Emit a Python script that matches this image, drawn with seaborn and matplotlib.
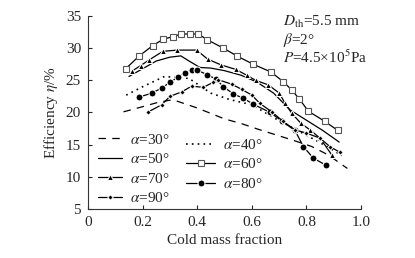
import pandas as pd
import matplotlib.pyplot as plt
import seaborn as sns

# ------------------------------------------------------------------
# data (x = cold mass fraction, y = efficiency %)
# ------------------------------------------------------------------
x_a30 = [0.13, 0.20, 0.25, 0.31, 0.40, 0.50, 0.56, 0.63, 0.69, 0.75, 0.82, 0.88, 0.95]
y_a30 = [20.1, 20.9, 21.5, 22.0, 20.7, 19.0, 18.3, 17.3, 16.5, 15.7, 14.7, 13.4, 11.3]

x_a40 = [0.14, 0.20, 0.28, 0.37, 0.45, 0.52, 0.60, 0.68, 0.75, 0.82, 0.88, 0.93]
y_a40 = [22.7, 24.0, 25.6, 25.3, 23.0, 22.0, 21.2, 19.2, 17.6, 16.0, 14.6, 13.3]

x_a50 = [0.15, 0.20, 0.25, 0.30, 0.34, 0.37, 0.41, 0.45, 0.50, 0.56, 0.62, 0.68, 0.74, 0.80, 0.86, 0.92]
y_a50 = [25.6, 26.8, 28.0, 28.6, 28.8, 28.0, 27.0, 26.9, 26.5, 25.8, 24.7, 23.0, 20.4, 18.8, 17.2, 15.4]

x_a60 = [0.138, 0.188, 0.237, 0.276, 0.312, 0.341, 0.374, 0.404, 0.437, 0.496, 0.545, 0.605,
         0.670, 0.715, 0.746, 0.774, 0.807, 0.868, 0.915]
y_a60 = [26.8, 28.8, 30.4, 31.4, 31.8, 32.2, 32.2, 32.2, 31.3, 30.0, 28.8, 27.5,
         26.3, 24.8, 23.5, 22.1, 20.2, 18.6, 17.2]

x_a70 = [0.160, 0.193, 0.225, 0.274, 0.327, 0.398, 0.438, 0.487, 0.541, 0.581, 0.614,
         0.660, 0.701, 0.722, 0.746, 0.780, 0.813, 0.850, 0.893]
y_a70 = [26.4, 27.3, 28.2, 29.5, 29.7, 29.7, 28.3, 27.4, 26.7, 25.8, 25.0,
         24.3, 23.0, 21.4, 19.9, 18.3, 17.3, 16.0, 13.4]

x_a80 = [0.188, 0.233, 0.270, 0.300, 0.331, 0.355, 0.380, 0.400, 0.435, 0.469, 0.496, 0.532,
         0.569, 0.605, 0.667, 0.709, 0.758, 0.789, 0.825, 0.872]
y_a80 = [22.4, 23.0, 23.8, 24.7, 25.5, 26.1, 26.6, 26.6, 25.9, 25.2, 24.0, 22.9,
         22.2, 21.3, 20.0, 18.7, 17.2, 14.7, 12.9, 11.8]

x_a90 = [0.221, 0.270, 0.300, 0.343, 0.380, 0.422, 0.459, 0.477, 0.526, 0.563, 0.600,
         0.630, 0.673, 0.715, 0.758, 0.800, 0.850, 0.886, 0.923]
y_a90 = [20.1, 21.2, 22.5, 23.2, 24.1, 23.9, 24.7, 25.1, 24.4, 23.6, 22.7,
         21.4, 20.1, 18.6, 17.3, 16.8, 16.0, 14.7, 13.8]

# ------------------------------------------------------------------
# style
# ------------------------------------------------------------------
sns.set_style("ticks")
plt.rcParams['font.family'] = ['Liberation Serif', 'DejaVu Serif']
plt.rcParams['mathtext.fontset'] = 'stix'
plt.rcParams['font.size'] = 11
plt.rcParams['xtick.direction'] = 'in'
plt.rcParams['ytick.direction'] = 'in'

fig = plt.figure(figsize=(4.15, 2.58), dpi=100)
ax = fig.add_axes([0.212, 0.190, 0.658, 0.748])

series = {
    30: (x_a30, y_a30, dict(linestyle=(0, (6, 5)), marker=None)),
    40: (x_a40, y_a40, dict(linestyle=(0, (1, 2.5)), marker=None, linewidth=1.2)),
    50: (x_a50, y_a50, dict(linestyle='-', marker=None)),
    60: (x_a60, y_a60, dict(linestyle='-', marker='s', markersize=4.3,
                            markerfacecolor='white', markeredgecolor='#555555',
                            markeredgewidth=0.8)),
    70: (x_a70, y_a70, dict(linestyle='-', marker='^', markersize=5)),
    80: (x_a80, y_a80, dict(linestyle='-', marker='o', markersize=5)),
    90: (x_a90, y_a90, dict(linestyle='-', marker='D', markersize=2.8)),
}

handles = {}
for ang, (xs, ys, kw) in series.items():
    df = pd.DataFrame({'x': xs, 'y': ys})
    kw = dict(kw)
    kw.setdefault('linewidth', 0.9)
    sns.lineplot(data=df, x='x', y='y', ax=ax, color='black', sort=False,
                 label=rf'$\alpha$=%d°' % ang, **kw)
    handles[ang] = ax.get_lines()[-1]

ax.get_legend().remove()

ax.set_xlim(0, 1.0)
ax.set_ylim(5, 35)
ax.set_xticks([0, 0.2, 0.4, 0.6, 0.8, 1.0])
ax.set_xticklabels(['0', '0.2', '0.4', '0.6', '0.8', '1.0'])
ax.set_yticks([5, 10, 15, 20, 25, 30, 35])
ax.tick_params(length=3, width=0.8, labelsize=11, pad=5)
for s in ['left', 'bottom']:
    ax.spines[s].set_linewidth(0.8)
    ax.spines[s].set_color('#333333')
sns.despine(ax=ax)

ax.set_xlabel('Cold mass fraction', fontsize=11, labelpad=4)
ax.set_ylabel(r'Efficiency $\eta$/%', fontsize=11, labelpad=4)

# legends (two columns, the second slightly lower)
leg1 = ax.legend([handles[a] for a in (30, 50, 70, 90)],
                 [rf'$\alpha$=%d°' % a for a in (30, 50, 70, 90)],
                 loc='upper left', bbox_to_anchor=(0.035, 0.395), frameon=False,
                 borderpad=0, borderaxespad=0, handlelength=1.6, handletextpad=0.5,
                 labelspacing=0.36, fontsize=11)
ax.add_artist(leg1)
ax.legend([handles[a] for a in (40, 60, 80)],
          [rf'$\alpha$=%d°' % a for a in (40, 60, 80)],
          loc='upper left', bbox_to_anchor=(0.36, 0.368), frameon=False,
          borderpad=0, borderaxespad=0, handlelength=1.9, handletextpad=0.5,
          labelspacing=0.36, fontsize=11)

# condition text, top right
ax.text(0.715, 34.1, r'$D_{\rm th}$=5.5 mm', fontsize=11, va='center')
ax.text(0.715, 31.3, r'$\beta$=2°', fontsize=11, va='center')
ax.text(0.715, 28.5, r'$P$=4.5×10$^5$Pa', fontsize=11, va='center')

plt.savefig('out.png', dpi=100)
plt.close()
